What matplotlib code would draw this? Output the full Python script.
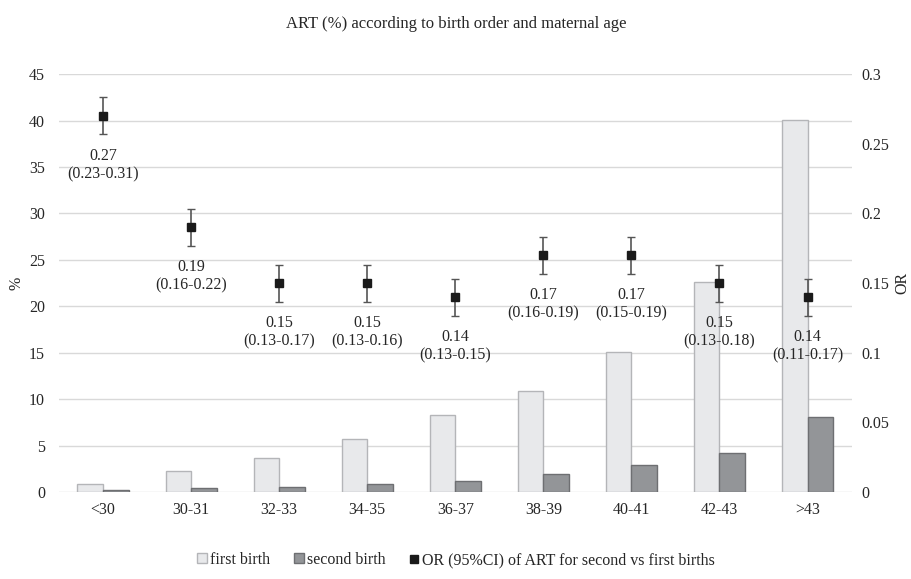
import matplotlib

matplotlib.use("Agg")
import matplotlib.pyplot as plt
import numpy as np
from matplotlib.lines import Line2D
from matplotlib.patches import Patch

plt.rcParams["font.family"] = ["Liberation Serif", "DejaVu Serif"]

age_groups = ["<30", "30-31", "32-33", "34-35", "36-37", "38-39", "40-41", "42-43", ">43"]
first_birth = [0.9, 2.3, 3.7, 5.7, 8.3, 10.9, 15.1, 22.6, 40.1]
second_birth = [0.25, 0.5, 0.6, 0.9, 1.2, 2.0, 2.9, 4.2, 8.1]
odds_ratio = [0.27, 0.19, 0.15, 0.15, 0.14, 0.17, 0.17, 0.15, 0.14]
or_err = [0.0133, 0.0133, 0.0133, 0.0133, 0.0133, 0.0133, 0.0133, 0.0133, 0.0133]
or_ci = ["(0.23-0.31)", "(0.16-0.22)", "(0.13-0.17)", "(0.13-0.16)", "(0.13-0.15)",
         "(0.16-0.19)", "(0.15-0.19)", "(0.13-0.18)", "(0.11-0.17)"]

c_first, e_first = "#e8e9eb", "#b4b5b8"
c_second, e_second = "#939598", "#6e6f72"
txt = "#262626"
fs = 11.5

fig = plt.figure(figsize=(9.12, 5.79), dpi=100)
ax = fig.add_axes([0.0647, 0.150, 0.869, 0.722])
ax2 = ax.twinx()

x = np.arange(len(age_groups))
w = 0.29
ax.bar(x - w / 2, first_birth, w, color=c_first, edgecolor=e_first, lw=1.0, zorder=2)
ax.bar(x + w / 2, second_birth, w, color=c_second, edgecolor=e_second, lw=1.0, zorder=2)

ax.set_ylim(0, 45)
ax.set_yticks(range(0, 46, 5))
ax.set_xlim(-0.5, len(age_groups) - 0.5)
ax.set_xticks(x)
ax.set_xticklabels(age_groups)
ax.grid(axis="y", color="#d9d9d9", lw=1.0, zorder=0)
ax.set_axisbelow(True)
ax.set_ylabel("%", fontsize=fs, color=txt, labelpad=3)

ax2.set_ylim(0, 0.3)
ax2.set_yticks([0, 0.05, 0.1, 0.15, 0.2, 0.25, 0.3])
ax2.set_yticklabels(["0", "0.05", "0.1", "0.15", "0.2", "0.25", "0.3"])
ax2.set_ylabel("OR", fontsize=fs, color=txt, labelpad=4)
ax2.errorbar(x, odds_ratio, yerr=or_err, fmt="s", color="#1a1a1a", ms=6,
             ecolor="#555555", elinewidth=1.2, capsize=3, capthick=1.0, zorder=5)
for xi, v, ci in zip(x, odds_ratio, or_ci):
    ax2.annotate(f"{v:.2f}\n{ci}", (xi, v), xytext=(0, -23), textcoords="offset points",
                 ha="center", va="top", fontsize=fs, color=txt, linespacing=1.2)

for a in (ax, ax2):
    for s in a.spines.values():
        s.set_visible(False)
    a.tick_params(length=0, labelsize=fs, colors=txt)
ax.tick_params(axis="y", pad=10)
ax.tick_params(axis="x", pad=7)
ax2.tick_params(axis="y", pad=7)

fig.suptitle("ART (%) according to birth order and maternal age", y=0.972,
             fontsize=12, color=txt)

handles = [
    Patch(facecolor=c_first, edgecolor=e_first, label="first birth"),
    Patch(facecolor=c_second, edgecolor=e_second, label="second birth"),
    Line2D([], [], marker="s", ls="none", color="#1a1a1a", ms=6,
           label="OR (95%CI) of ART for second vs first births"),
]
fig.legend(handles=handles, loc="center", bbox_to_anchor=(0.5, 0.033), ncol=3,
           frameon=False, fontsize=fs, handlelength=0.6, handleheight=0.6,
           handletextpad=0.2, columnspacing=1.5, labelcolor=txt)

fig.savefig("out.png", dpi=100)
